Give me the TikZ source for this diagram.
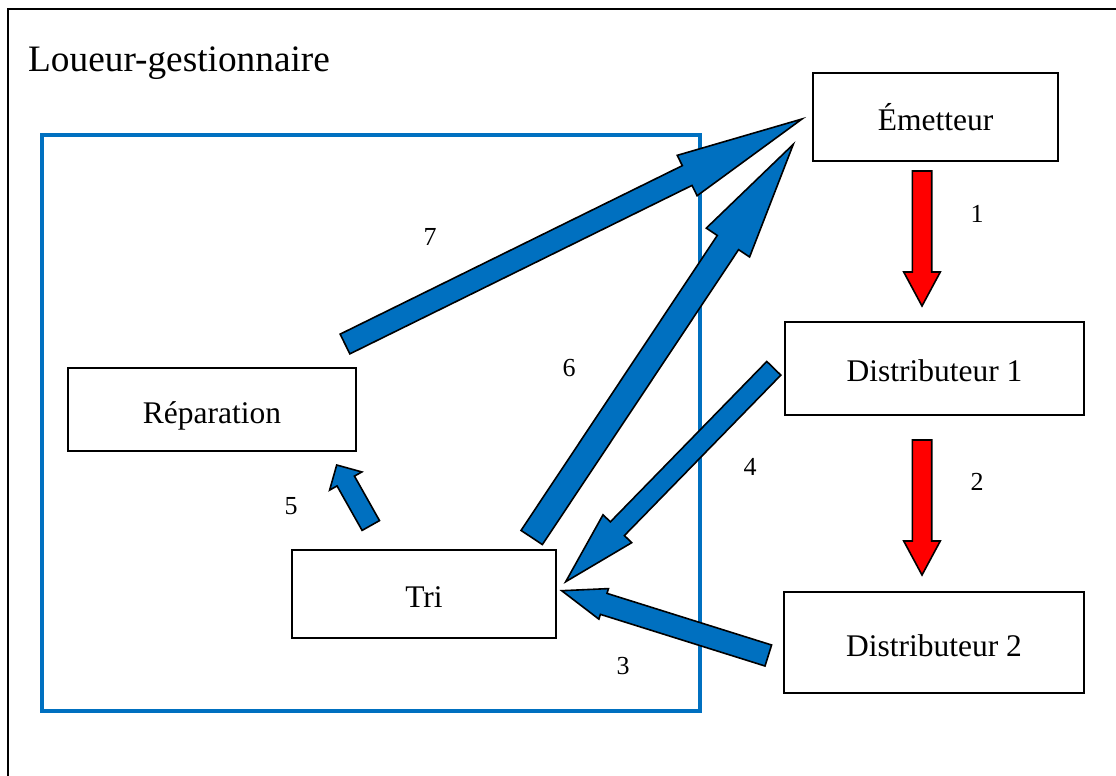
\documentclass[tikz,border=0pt]{standalone}
\usepackage{fontspec}
\setmainfont{Liberation Serif}
\usetikzlibrary{calc}
\definecolor{wblue}{RGB}{0,112,192}
\tikzset{
  box/.style={draw=black, line width=2pt, fill=white, inner sep=0pt,
    font=\fontsize{31.5}{36}\selectfont, text height=27pt, text depth=0pt},
  num/.style={font=\fontsize{26}{30}\selectfont, inner sep=0pt},
  titlelbl/.style={font=\fontsize{37.3}{42}\selectfont, inner sep=0pt},
  barrow/.style={fill=wblue, draw=black, line width=1.6pt, line join=miter},
  rarrow/.style={fill=red, draw=black, line width=1.6pt, line join=miter},
  frame/.style={draw=black, line width=2.2pt},
  zone/.style={draw=wblue, line width=4pt},
}
% style, tail, tip, half shaft, half head, head length
\newcommand{\blockarrow}[6]{%
  \coordinate (ba-b) at ($(#3)!#6pt!(#2)$);
  \draw[#1] ($(#2)!#4pt!90:(#3)$) -- ($(ba-b)!#4pt!90:(#3)$)
    -- ($(ba-b)!#5pt!90:(#3)$) -- (#3) -- ($(ba-b)!#5pt!-90:(#3)$)
    -- ($(ba-b)!#4pt!-90:(#3)$) -- ($(#2)!#4pt!-90:(#3)$) -- cycle;
}
\begin{document}
\begin{tikzpicture}[x=1pt,y=-1pt]
\useasboundingbox (0,0) rectangle (1116,776);
\clip (0,0) rectangle (1116,776);
\fill[white] (0,0) rectangle (1116,776);
% outer frame (extends beyond the page)
\draw[frame] (8.3,800) -- (8.3,9.3) -- (1140,9.3);
\node[titlelbl, anchor=base west] (title) at (28,71) {Loueur-gestionnaire};
% blue zone
\draw[zone] (42,134.5) rectangle (700,711.3);
% boxes
\node[box, minimum width=245.6pt, minimum height=87.4pt] (em) at (935.5,117) {Émetteur};
\node[box, minimum width=299pt, minimum height=93.3pt] (d1) at (934.5,368.3) {Distributeur 1};
\node[box, minimum width=300pt, minimum height=101.6pt] (d2) at (934,642.5) {Distributeur 2};
\node[box, minimum width=287.7pt, minimum height=82.7pt] (rep) at (212,409.7) {Réparation};
\node[box, minimum width=263.7pt, minimum height=87.7pt] (tri) at (424,593.8) {Tri};
% arrow end points
\coordinate (a7t) at (345,344);   \coordinate (a7h) at (802,119);
\coordinate (a6t) at (531.7,537.5); \coordinate (a6h) at (793.3,144.3);
\coordinate (a4t) at (773.8,368.3); \coordinate (a4h) at (565.7,581.7);
\coordinate (a3t) at (768.3,655.5); \coordinate (a3h) at (561.7,590.7);
\coordinate (a5t) at (370.8,525.5); \coordinate (a5h) at (336.7,465);
\coordinate (a1t) at (922,171);   \coordinate (a1h) at (922,306);
\coordinate (a2t) at (922,440);   \coordinate (a2h) at (922,575);
\blockarrow{barrow}{a7t}{a7h}{11}{22.5}{128}
\blockarrow{barrow}{a6t}{a6h}{12.8}{26}{118}
\blockarrow{barrow}{a4t}{a4h}{9.8}{20}{74}
\blockarrow{barrow}{a3t}{a3h}{11}{16}{44}
\blockarrow{barrow}{a5t}{a5h}{10}{18.5}{18.4}
\blockarrow{rarrow}{a1t}{a1h}{9.7}{18.3}{34}
\blockarrow{rarrow}{a2t}{a2h}{9.7}{18.3}{34}
% numbers
\node[num] (n7) at (430,237) {7};
\node[num] (n6) at (569,368) {6};
\node[num] (n1) at (977,214) {1};
\node[num] (n2) at (977,482) {2};
\node[num] (n4) at (750,467) {4};
\node[num] (n5) at (291,506) {5};
\node[num] (n3) at (623,666) {3};
\end{tikzpicture}
\end{document}
